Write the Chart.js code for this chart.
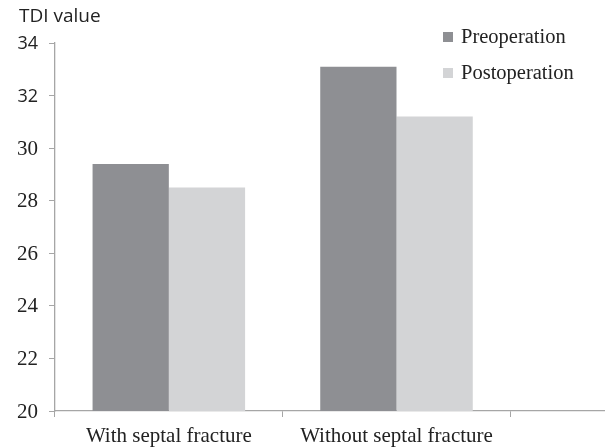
<!DOCTYPE html>
<html>
<head>
<meta charset="utf-8">
<script src="https://cdn.jsdelivr.net/npm/chart.js@4.4.1/dist/chart.umd.min.js"></script>
<style>
  html, body { margin: 0; padding: 0; background: #fff; }
  #wrap { width: 605px; height: 448px; overflow: hidden; position: relative; }
  #tdi_chart { display: block; }
</style>
</head>
<body>
<div id="wrap">
  <canvas id="tdi_chart" width="740" height="448"></canvas>
</div>
<script>
// values
var categories = ["With septal fracture", "Without septal fracture", ""];
var preoperation = [29.4, 33.1, null];
var postoperation = [28.5, 31.2, null];
var yTicks = [20, 22, 24, 26, 28, 30, 32, 34];
var yTitle = "TDI value";

var serif = "'Liberation Serif', 'Times New Roman', serif";
var sans = "'Open Sans', 'Noto Sans', sans-serif";
var axisGray = '#a6a6a6';

// y labels, the title above the axis and the legend, drawn on top of the chart
var overlay = {
    id: 'overlay',
    afterDraw: function (chart) {
        var ctx = chart.ctx;
        var y = chart.scales.y;
        ctx.save();
        ctx.fillStyle = '#222';
        ctx.textBaseline = 'middle';

        // tick labels: the top two are in a sans face in the original, the rest serif
        ctx.textAlign = 'right';
        y.ticks.forEach(function (t) {
            ctx.font = t.value >= 32 ? '18px ' + sans : '21px ' + serif;
            ctx.fillText(String(t.value), y.right - 17, y.getPixelForValue(t.value) + 1);
        });

        ctx.textAlign = 'left';
        ctx.font = '19px ' + sans;
        ctx.fillText(yTitle, 19, 17);

        ctx.font = '20.5px ' + serif;
        chart.data.datasets.forEach(function (ds, i) {
            var ly = 37 + i * 36;
            ctx.fillStyle = ds.backgroundColor;
            ctx.fillRect(443, ly - 5, 10, 10);
            ctx.fillStyle = '#222';
            ctx.fillText(ds.label, 461, ly + 1);
        });
        ctx.restore();
    }
};

new Chart(document.getElementById("tdi_chart").getContext("2d"), {
    type: 'bar',
    data: {
        labels: categories,
        datasets: [{
            label: "Preoperation",
            data: preoperation,
            backgroundColor: '#8e8f93',
            barPercentage: 1,
            categoryPercentage: 0.67
        }, {
            label: "Postoperation",
            data: postoperation,
            backgroundColor: '#d3d4d6',
            barPercentage: 1,
            categoryPercentage: 0.67
        }]
    },
    options: {
        responsive: false,
        animation: false,
        devicePixelRatio: 1,
        layout: { padding: { top: 43, left: 0, right: 2, bottom: 0 } },
        plugins: {
            legend: { display: false },
            tooltip: { enabled: false }
        },
        scales: {
            x: {
                offset: true,
                grid: {
                    offset: true,
                    drawOnChartArea: false,
                    drawTicks: true,
                    tickLength: 6,
                    color: axisGray
                },
                border: { display: true, color: axisGray, width: 1.3 },
                ticks: {
                    color: '#222',
                    font: { family: serif, size: 21 },
                    padding: 7,
                    maxRotation: 0,
                    autoSkip: false
                },
                afterFit: function (scale) { scale.height = 37; }
            },
            y: {
                min: yTicks[0],
                max: yTicks[yTicks.length - 1],
                grid: {
                    drawOnChartArea: false,
                    drawTicks: true,
                    tickLength: 6,
                    color: axisGray
                },
                border: { display: true, color: axisGray, width: 1.3 },
                ticks: {
                    stepSize: yTicks[1] - yTicks[0],
                    display: false
                },
                afterFit: function (scale) { scale.width = 55; }
            }
        }
    },
    plugins: [overlay]
});
</script>
</body>
</html>
